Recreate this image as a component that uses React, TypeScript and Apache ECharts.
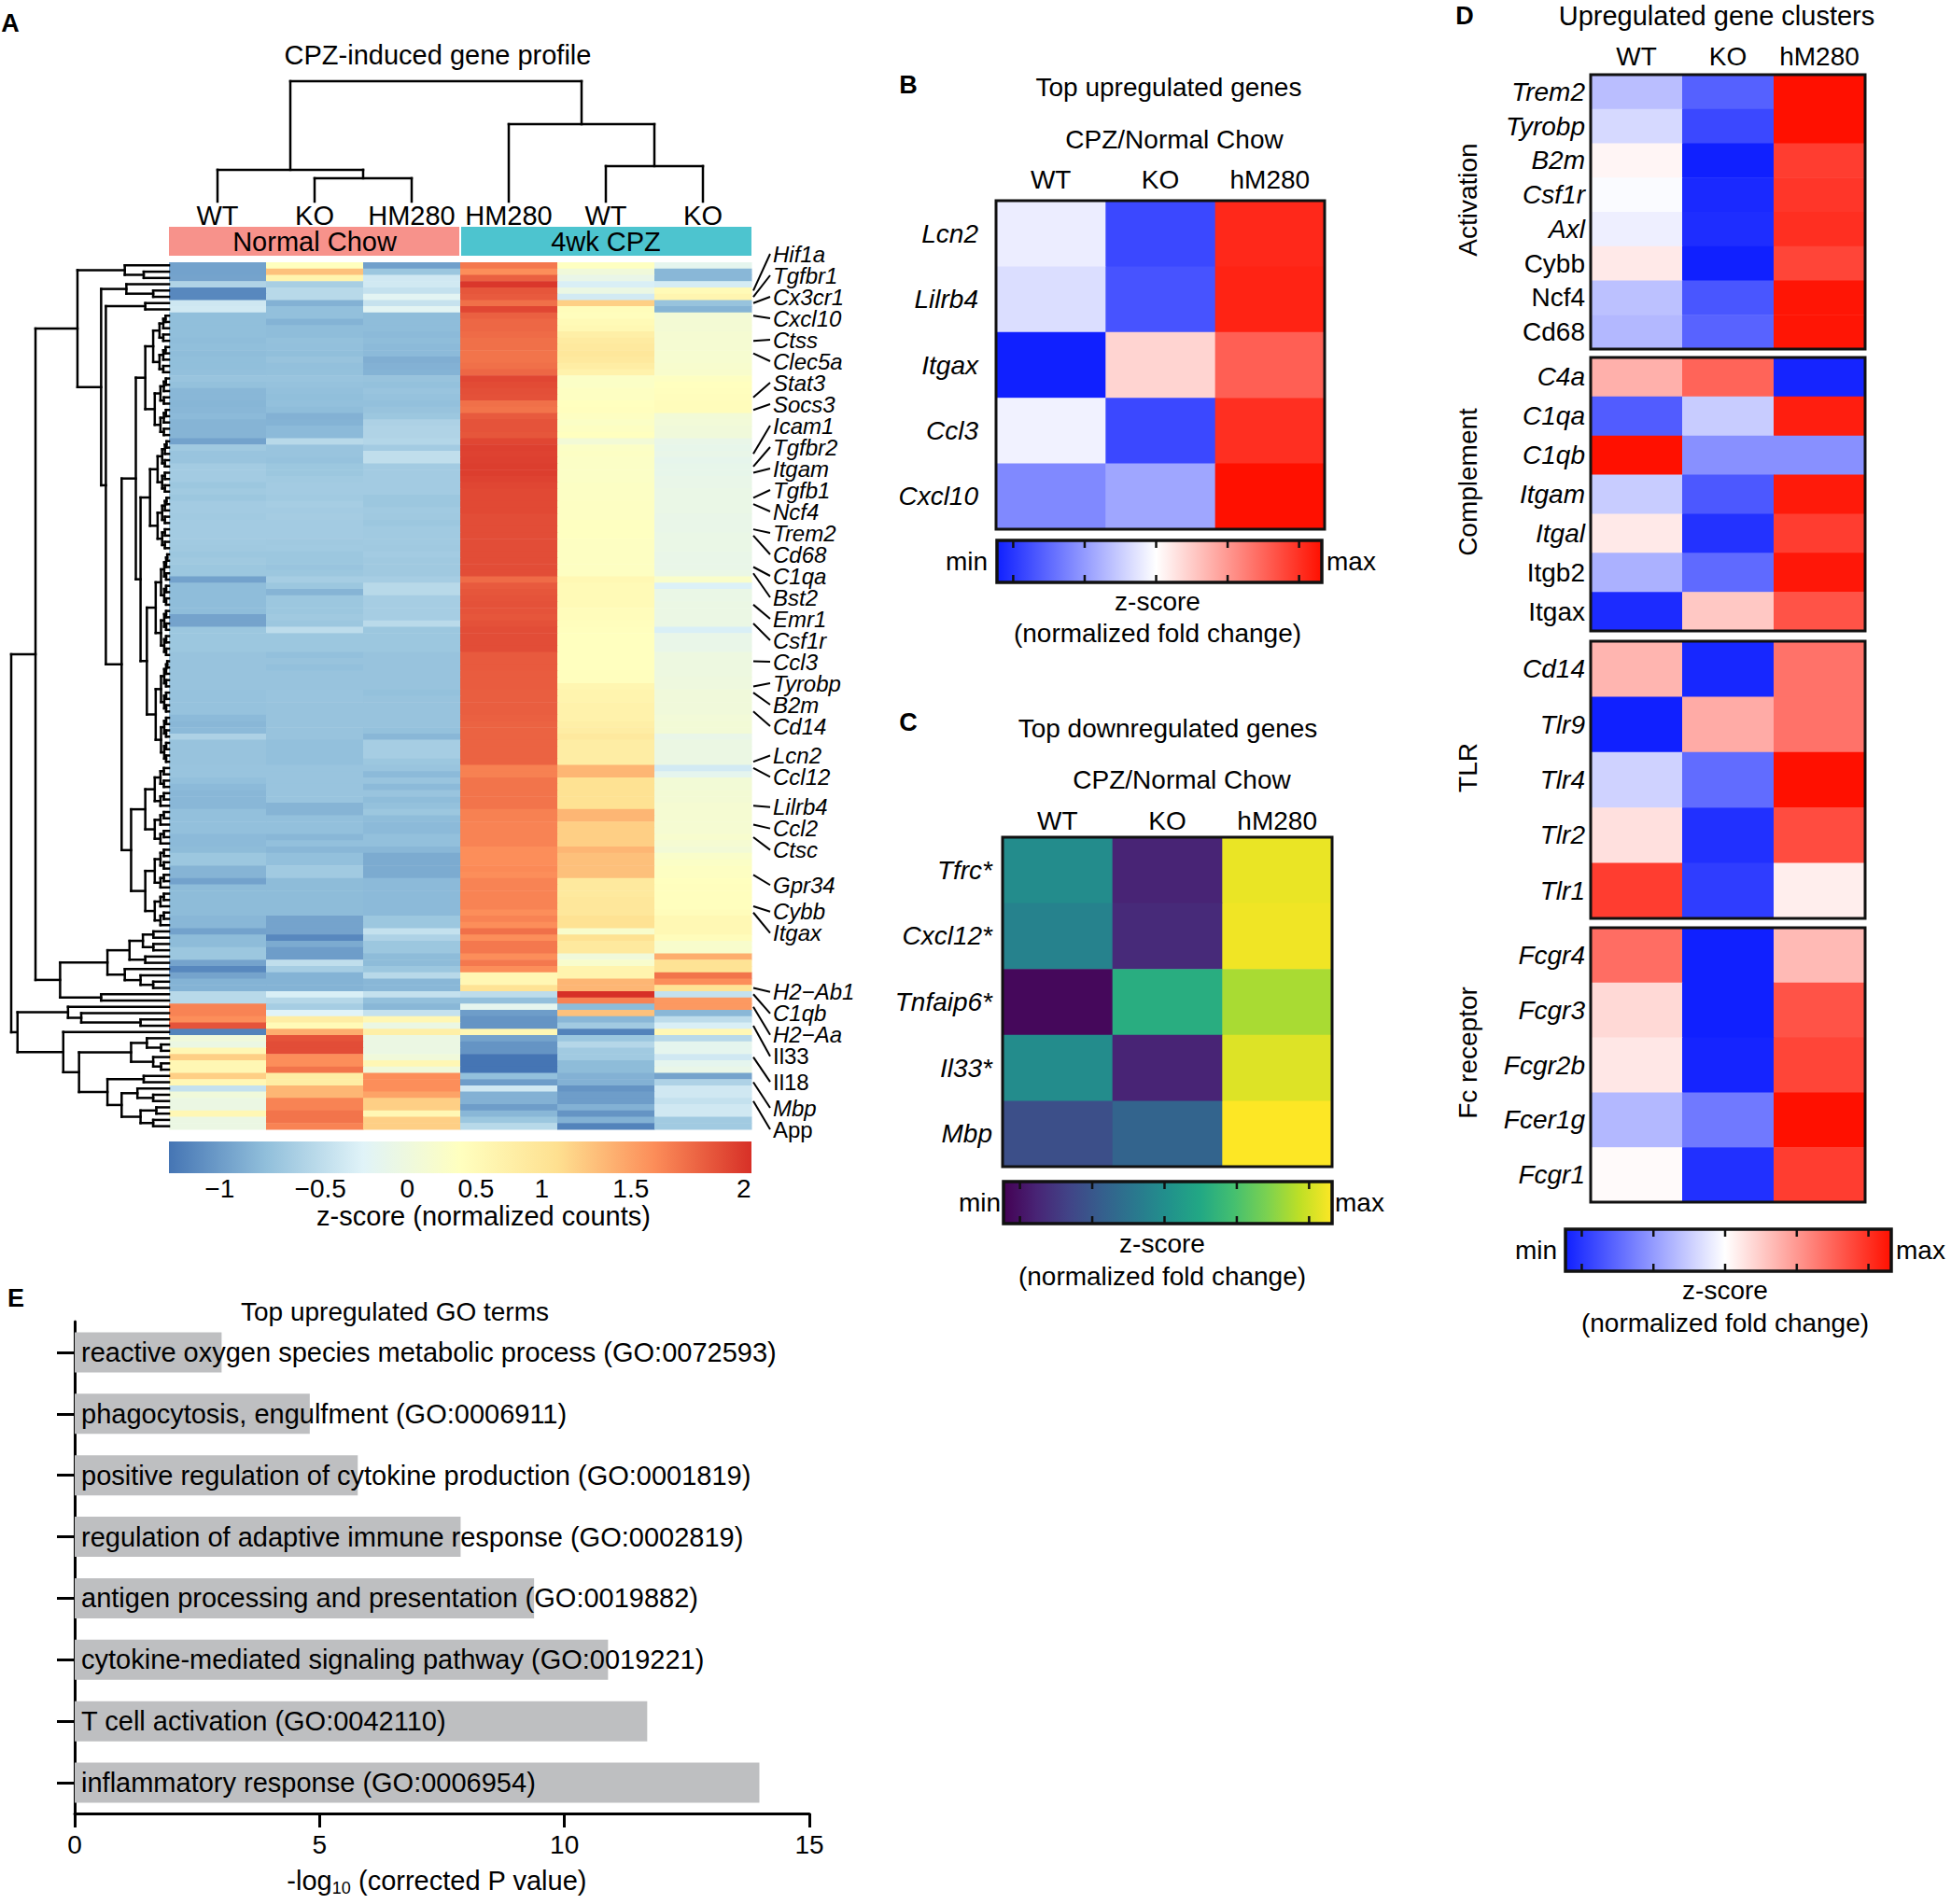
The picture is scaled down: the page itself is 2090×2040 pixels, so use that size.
import React, { useEffect, useRef } from "react";
import * as echarts from "echarts";

const FONT = '"Liberation Sans", Arial, Helvetica, sans-serif';

/* ====================== Panel A data ====================== */
const aColLabels = ["WT", "KO", "HM280", "HM280", "WT", "KO"];
const aGroups = ["Normal Chow", "4wk CPZ"];
// z-scores, columns: NC WT, NC KO, NC HM280, CPZ HM280, CPZ WT, CPZ KO
const aRows = [
  [-0.96, 0.38, -0.97, 1.70, 0.36, -0.16],
  [-0.96, 1.29, -0.70, 1.60, 0.05, -0.82],
  [-0.95, 0.65, -0.37, 1.81, -0.10, -0.82],
  [-0.58, -0.63, -0.36, 2.00, -0.30, -0.33],
  [-1.13, -0.53, -0.45, 1.86, -0.05, 0.50],
  [-1.13, -0.53, -0.20, 1.84, -0.35, 0.62],
  [-0.38, -0.86, -0.44, 1.74, 1.20, -0.73],
  [-0.36, -0.76, -0.20, 1.93, 0.45, -0.84],
  [-0.77, -0.76, -0.78, 1.81, 0.42, 0.10],
  [-0.77, -0.85, -0.78, 1.78, 0.50, 0.12],
  [-0.77, -0.78, -0.78, 1.78, 0.55, 0.12],
  [-0.77, -0.78, -0.80, 1.76, 0.75, 0.15],
  [-0.78, -0.75, -0.78, 1.74, 0.85, 0.15],
  [-0.77, -0.76, -0.80, 1.74, 0.90, 0.15],
  [-0.78, -0.77, -0.80, 1.72, 0.95, 0.18],
  [-0.77, -0.73, -0.88, 1.72, 0.90, 0.18],
  [-0.77, -0.76, -0.86, 1.74, 0.80, 0.20],
  [-0.76, -0.75, -0.85, 1.78, 0.70, 0.22],
  [-0.72, -0.72, -0.73, 1.93, 0.30, 0.35],
  [-0.75, -0.74, -0.75, 1.91, 0.30, 0.38],
  [-0.82, -0.76, -0.72, 1.89, 0.35, 0.40],
  [-0.82, -0.77, -0.74, 1.88, 0.35, 0.42],
  [-0.83, -0.76, -0.76, 1.74, 0.38, 0.45],
  [-0.82, -0.78, -0.73, 1.72, 0.40, 0.45],
  [-0.80, -0.86, -0.70, 1.84, 0.35, 0.10],
  [-0.84, -0.85, -0.60, 1.87, 0.30, 0.08],
  [-0.84, -0.80, -0.58, 1.87, 0.35, 0.05],
  [-0.84, -0.80, -0.58, 1.86, 0.38, 0.05],
  [-0.96, -0.53, -0.56, 1.93, 0.10, -0.10],
  [-0.68, -0.72, -0.66, 1.96, 0.30, -0.12],
  [-0.72, -0.72, -0.48, 1.95, 0.32, -0.10],
  [-0.72, -0.74, -0.48, 1.96, 0.30, -0.14],
  [-0.66, -0.70, -0.66, 1.97, 0.30, -0.12],
  [-0.66, -0.70, -0.66, 1.97, 0.30, -0.12],
  [-0.66, -0.67, -0.66, 1.95, 0.30, -0.10],
  [-0.70, -0.66, -0.66, 1.93, 0.32, -0.10],
  [-0.67, -0.66, -0.66, 1.92, 0.32, -0.08],
  [-0.70, -0.67, -0.70, 1.92, 0.32, -0.08],
  [-0.66, -0.64, -0.70, 1.92, 0.34, -0.08],
  [-0.66, -0.66, -0.67, 1.92, 0.34, -0.08],
  [-0.67, -0.65, -0.68, 1.90, 0.34, -0.10],
  [-0.66, -0.66, -0.70, 1.90, 0.36, -0.10],
  [-0.66, -0.66, -0.67, 1.90, 0.36, -0.10],
  [-0.66, -0.66, -0.67, 1.90, 0.36, -0.08],
  [-0.67, -0.68, -0.67, 1.90, 0.35, -0.08],
  [-0.68, -0.67, -0.68, 1.90, 0.35, -0.08],
  [-0.70, -0.70, -0.66, 1.90, 0.35, -0.10],
  [-0.68, -0.70, -0.68, 1.90, 0.35, -0.10],
  [-0.70, -0.72, -0.68, 1.90, 0.35, -0.10],
  [-0.70, -0.70, -0.68, 1.90, 0.35, -0.08],
  [-0.96, -0.64, -0.64, 1.76, 0.55, 0.25],
  [-0.78, -0.70, -0.53, 1.84, 0.50, -0.28],
  [-0.78, -0.84, -0.53, 1.86, 0.50, -0.08],
  [-0.78, -0.70, -0.64, 1.87, 0.50, -0.08],
  [-0.78, -0.70, -0.64, 1.88, 0.50, -0.06],
  [-0.78, -0.70, -0.64, 1.87, 0.45, -0.06],
  [-0.95, -0.68, -0.64, 1.86, 0.45, -0.06],
  [-0.95, -0.70, -0.52, 1.88, 0.42, -0.06],
  [-0.70, -0.50, -0.70, 1.90, 0.40, -0.30],
  [-0.70, -0.70, -0.70, 1.90, 0.38, -0.10],
  [-0.70, -0.70, -0.70, 1.90, 0.38, -0.10],
  [-0.70, -0.70, -0.70, 1.90, 0.38, -0.10],
  [-0.73, -0.76, -0.73, 1.84, 0.38, -0.02],
  [-0.73, -0.73, -0.73, 1.84, 0.38, -0.02],
  [-0.73, -0.76, -0.73, 1.84, 0.38, -0.02],
  [-0.73, -0.73, -0.73, 1.83, 0.40, -0.02],
  [-0.73, -0.73, -0.73, 1.83, 0.40, 0.00],
  [-0.73, -0.73, -0.73, 1.83, 0.60, 0.00],
  [-0.74, -0.72, -0.75, 1.82, 0.65, 0.05],
  [-0.74, -0.72, -0.73, 1.82, 0.65, 0.05],
  [-0.74, -0.73, -0.73, 1.82, 0.70, 0.05],
  [-0.74, -0.73, -0.73, 1.82, 0.70, 0.05],
  [-0.80, -0.73, -0.73, 1.81, 0.70, 0.08],
  [-0.82, -0.73, -0.73, 1.80, 0.75, 0.10],
  [-0.80, -0.73, -0.75, 1.80, 0.80, 0.10],
  [-0.60, -0.73, -0.82, 1.80, 0.90, -0.10],
  [-0.73, -0.76, -0.64, 1.80, 0.80, -0.05],
  [-0.73, -0.76, -0.64, 1.80, 0.80, -0.05],
  [-0.73, -0.76, -0.64, 1.80, 0.80, -0.05],
  [-0.73, -0.76, -0.70, 1.80, 0.80, -0.05],
  [-0.72, -0.72, -0.72, 1.66, 1.36, -0.35],
  [-0.72, -0.72, -0.80, 1.66, 1.36, -0.16],
  [-0.76, -0.72, -0.72, 1.72, 1.05, 0.10],
  [-0.80, -0.72, -0.80, 1.72, 1.05, 0.10],
  [-0.82, -0.72, -0.72, 1.72, 1.05, 0.12],
  [-0.82, -0.72, -0.78, 1.72, 1.05, 0.12],
  [-0.82, -0.84, -0.75, 1.72, 1.05, 0.15],
  [-0.76, -0.84, -0.70, 1.66, 1.36, 0.15],
  [-0.76, -0.76, -0.78, 1.66, 1.36, 0.15],
  [-0.76, -0.76, -0.80, 1.65, 1.20, 0.15],
  [-0.76, -0.76, -0.80, 1.65, 1.20, 0.15],
  [-0.80, -0.82, -0.76, 1.65, 1.20, 0.20],
  [-0.80, -0.76, -0.76, 1.65, 1.20, 0.15],
  [-0.79, -0.82, -0.82, 1.60, 1.36, 0.10],
  [-0.70, -0.76, -0.90, 1.60, 1.30, 0.25],
  [-0.70, -0.76, -0.90, 1.60, 1.30, 0.30],
  [-0.84, -0.67, -0.90, 1.62, 1.30, 0.35],
  [-0.84, -0.67, -0.90, 1.60, 1.30, 0.35],
  [-0.96, -0.79, -0.80, 1.65, 0.90, 0.38],
  [-0.79, -0.79, -0.80, 1.65, 0.90, 0.40],
  [-0.79, -0.79, -0.80, 1.65, 0.90, 0.40],
  [-0.79, -0.79, -0.80, 1.65, 0.95, 0.40],
  [-0.79, -0.79, -0.80, 1.65, 0.95, 0.40],
  [-0.79, -0.79, -0.80, 1.60, 0.95, 0.45],
  [-0.82, -0.95, -0.70, 1.65, 1.05, 0.55],
  [-0.82, -0.95, -0.70, 1.60, 1.05, 0.55],
  [-0.96, -0.95, -0.45, 1.74, 0.22, 0.55],
  [-0.79, -1.13, -0.59, 1.60, 1.05, 0.45],
  [-0.79, -0.90, -0.70, 1.70, 0.90, 0.22],
  [-0.70, -0.99, -0.70, 1.70, 0.90, 0.22],
  [-0.70, -0.99, -0.79, 1.60, 0.05, 1.42],
  [-0.95, -0.48, -0.79, 1.70, 0.22, 1.03],
  [-1.13, -0.64, -0.70, 1.60, 0.65, 1.03],
  [-0.95, -0.85, -0.53, 0.56, 0.65, 1.72],
  [-0.85, -0.85, -0.82, 0.56, 1.36, 1.60],
  [-0.85, -0.85, -0.82, 1.03, 1.36, 1.03],
  [-0.53, -0.30, -0.45, -0.50, 2.03, -0.45],
  [-0.53, -0.55, -0.76, -0.76, 1.65, 1.54],
  [1.65, -0.64, -0.82, -0.16, -0.79, 1.54],
  [1.65, -0.25, -0.45, -0.99, 1.29, -0.82],
  [1.60, 0.80, 0.56, -1.05, -0.82, -0.50],
  [1.87, 0.50, -0.05, -1.05, -0.67, -0.30],
  [-1.16, 1.42, 0.75, 0.56, -1.16, 0.56],
  [0.05, 1.87, -0.05, -0.95, -0.70, -0.53],
  [-0.05, 1.90, -0.05, -1.05, -0.55, -0.16],
  [0.56, 1.90, -0.05, -1.05, -0.67, -0.16],
  [1.20, 1.60, 0.05, -1.25, -0.67, -0.37],
  [0.56, 1.60, 0.56, -1.25, -0.79, -0.16],
  [0.56, 1.72, 0.05, -1.25, -0.79, -0.10],
  [1.20, 0.80, 1.60, -0.76, -0.86, -0.95],
  [0.56, 0.80, 1.60, -0.99, -0.86, -0.59],
  [-0.45, 1.36, 1.60, -0.37, -1.05, -0.37],
  [0.05, 1.36, 1.49, -0.86, -0.99, -0.37],
  [-0.05, 1.65, 1.20, -0.86, -0.99, -0.45],
  [-0.05, 1.65, 1.20, -0.99, -0.86, -0.37],
  [0.56, 1.72, 0.56, -0.82, -1.05, -0.37],
  [-0.05, 1.72, 1.20, -0.70, -0.86, -0.67],
  [-0.05, 1.65, 1.20, -0.53, -1.16, -0.67],
];
const aLegendTicks = [-1, -0.5, 0, 0.5, 1, 1.5, 2];
// colour-key scale: z-score -> fraction along the key (breaks are not uniform)
const aLegendScale = [
  [-1.25, 0], [-1, 0.087], [-0.5, 0.26], [0, 0.409], [0.5, 0.527],
  [1, 0.64], [1.5, 0.793], [2, 0.987], [2.03, 1],
];
const aPalette = ["#4575B4", "#91BFDB", "#E0F3F8", "#FFFFBF", "#FEE090", "#FC8D59", "#D73027"];

function blk(from: number, to: number, h: number) {
  return { from, to, h };
}
// column dendrogram: [height, left, right], leaves = column index
const aColTree = [1.0, [0.264, 0, [0.194, 1, 2]], [0.643, 3, [0.295, 4, 5]]];
// row dendrogram: [height, left, right], leaves = row index, blk = tight leaf group
const aRowTree = [1.0,
  [0.846,
    [0.58,
      [0.28, 0, [0.16, 1, 2]],
      [0.43,
        [0.27, 3, [0.10, 4, 5]],
        [0.40,
          [0.15, 6, 7],
          [0.30,
            [0.21,
              [0.15, blk(8, 17, 0.10), blk(18, 27, 0.09)],
              [0.18, blk(28, 45, 0.12), blk(46, 79, 0.14)]],
            [0.24, blk(80, 92, 0.15), blk(93, 105, 0.15)]]]]],
    [0.69,
      [0.39,
        [0.25, blk(106, 109, 0.165), [0.15, 110, 111]],
        [0.28, 112, [0.18, 113, [0.10, 114, 115]]]],
      [0.43, 116, 117]]],
  [0.96,
    [0.64, 118, [0.556, 119, [0.18, 120, 121]]],
    [0.67, 122,
      [0.57,
        [0.24, [0.14, 123, [0.05, 124, 125]], [0.10, 126, [0.05, 127, 128]]],
        [0.39, [0.16, 129, 130],
          [0.30, [0.20, 131, [0.10, 132, 133]], [0.18, [0.08, 134, 135], [0.10, 136, 137]]]]]]]];

// labelled genes with their heatmap row
const aGeneLabels: [string, number][] = [
  ["Hif1a", 4], ["Tgfbr1", 5], ["Cx3cr1", 6], ["Cxcl10", 8], ["Ctss", 12], ["Clec5a", 14],
  ["Stat3", 21], ["Socs3", 23], ["Icam1", 30], ["Tgfbr2", 32], ["Itgam", 33], ["Tgfb1", 37],
  ["Ncf4", 38], ["Trem2", 42], ["Cd68", 43], ["C1qa", 48], ["Bst2", 49], ["Emr1", 54],
  ["Csf1r", 57], ["Ccl3", 63], ["Tyrobp", 67], ["B2m", 68], ["Cd14", 71], ["Lcn2", 79],
  ["Ccl12", 80], ["Lilrb4", 86], ["Ccl2", 89], ["Ctsc", 91], ["Gpr34", 97], ["Cybb", 102],
  ["Itgax", 103], ["H2\u2212Ab1", 115], ["C1qb", 116], ["H2\u2212Aa", 118], ["Il33", 121],
  ["Il18", 126], ["Mbp", 130], ["App", 133],
];
const aUpright = new Set(["Il33", "Il18", "App"]);

/* ====================== Panel B / C data ====================== */
const fcCols = ["WT", "KO", "hM280"];
const bGenes = ["Lcn2", "Lilrb4", "Itgax", "Ccl3", "Cxcl10"];
// normalized fold change, -1 = min, 1 = max
const bValues = [
  [-0.08, -0.82, 0.90],
  [-0.15, -0.77, 0.92],
  [-1.00, 0.18, 0.67],
  [-0.06, -0.82, 0.87],
  [-0.53, -0.40, 1.00],
];
const cGenes = ["Tfrc*", "Cxcl12*", "Tnfaip6*", "Il33*", "Mbp"];
const cValues = [
  [-0.04, -0.80, 0.94],
  [-0.12, -0.76, 0.96],
  [-0.96, 0.24, 0.74],
  [-0.04, -0.80, 0.90],
  [-0.52, -0.36, 1.00],
];

/* ====================== Panel D data ====================== */
const dGroups = ["Activation", "Complement", "TLR", "Fc receptor"];
const dGenes = [
  ["Trem2", "Tyrobp", "B2m", "Csf1r", "Axl", "Cybb", "Ncf4", "Cd68"],
  ["C4a", "C1qa", "C1qb", "Itgam", "Itgal", "Itgb2", "Itgax"],
  ["Cd14", "Tlr9", "Tlr4", "Tlr2", "Tlr1"],
  ["Fcgr4", "Fcgr3", "Fcgr2b", "Fcer1g", "Fcgr1"],
];
const dValues = [
  [[-0.29, -0.71, 1.00], [-0.17, -0.82, 1.00], [0.04, -1.00, 0.81], [-0.02, -0.96, 0.84],
   [-0.07, -0.94, 0.87], [0.09, -1.00, 0.78], [-0.28, -0.76, 0.98], [-0.32, -0.70, 0.98]],
  [[0.33, 0.65, -0.98], [-0.73, -0.23, 0.94], [1.00, -0.50, -0.50], [-0.23, -0.75, 0.96],
   [0.09, -0.92, 0.81], [-0.35, -0.67, 0.97], [-0.95, 0.23, 0.72]],
  [[0.31, -0.97, 0.59], [-1.00, 0.35, 0.59], [-0.20, -0.66, 1.00], [0.13, -0.93, 0.75],
   [0.81, -0.87, 0.07]],
  [[0.61, -1.00, 0.29], [0.16, -1.00, 0.72], [0.10, -0.98, 0.78], [-0.32, -0.60, 1.00],
   [0.02, -0.93, 0.81]],
];
const dUpright = [new Set(["Cybb", "Ncf4", "Cd68"]), new Set(["Itgb2", "Itgax"]), new Set<string>(), new Set<string>()];

/* ====================== Panel E data ====================== */
const goTerms = [
  "reactive oxygen species metabolic process (GO:0072593)",
  "phagocytosis, engulfment (GO:0006911)",
  "positive regulation of cytokine production (GO:0001819)",
  "regulation of adaptive immune response (GO:0002819)",
  "antigen processing and presentation (GO:0019882)",
  "cytokine-mediated signaling pathway (GO:0019221)",
  "T cell activation (GO:0042110)",
  "inflammatory response (GO:0006954)",
];
const goValues = [3.0, 4.8, 5.78, 7.88, 9.38, 10.89, 11.69, 13.98];
const goTicks = [0, 5, 10, 15];

/* ====================== layout ====================== */
const LAY = {
  aHeat: { left: 181, top: 281, width: 624, height: 929 },
  aRowDen: { left: 12, top: 281, width: 169, height: 929 },
  aColDen: { left: 181, top: 87, width: 624, height: 129 },
  aLabelTop: 272,
  aLabelBottom: 1210,
  aLabelGap: 23,
  b: { left: 1067, top: 215, width: 352, height: 352 },
  c: { left: 1074, top: 897, width: 353, height: 353 },
  d: [
    { left: 1704, top: 80, width: 294, height: 294 },
    { left: 1704, top: 383, width: 294, height: 293 },
    { left: 1704, top: 687, width: 294, height: 297 },
    { left: 1704, top: 994, width: 294, height: 294 },
  ],
  e: { left: 80, top: 1416, width: 787, height: 527 },
};
const cbTickFrac = [0.05, 0.27, 0.49, 0.71, 0.93];

/* ====================== colour helpers ====================== */
function hexRgb(c: string) {
  const n = parseInt(c.slice(1), 16);
  return [(n >> 16) & 255, (n >> 8) & 255, n & 255];
}
function mix(a: string, b: string, t: number) {
  const A = hexRgb(a), B = hexRgb(b);
  const r = A.map((v, i) => Math.round(v + (B[i] - v) * t));
  return `rgb(${r[0]},${r[1]},${r[2]})`;
}
function ramp(stops: string[], t: number) {
  const tt = Math.max(0, Math.min(1, t));
  const s = tt * (stops.length - 1);
  const i = Math.min(stops.length - 2, Math.floor(s));
  return mix(stops[i], stops[i + 1], s - i);
}
function piecewise(stops: number[][], v: number) {
  if (v <= stops[0][0]) return stops[0][1];
  for (let i = 1; i < stops.length; i++) {
    if (v <= stops[i][0]) {
      const [x0, y0] = stops[i - 1];
      const [x1, y1] = stops[i];
      return y0 + ((y1 - y0) * (v - x0)) / (x1 - x0);
    }
  }
  return stops[stops.length - 1][1];
}
const aColor = (z: number) => ramp(aPalette, piecewise(aLegendScale, z));
const BLUE = "#1020FF";
const RED = "#FF1000";
const bwr = (v: number) => (v < 0 ? mix(BLUE, "#FFFFFF", 1 + v) : mix("#FFFFFF", RED, v));
const VIRIDIS = ["#440154", "#482475", "#414487", "#355F8D", "#2A788E", "#21918C", "#22A884", "#44BF70", "#7AD151", "#BDDF26", "#FDE725"];
const viridis = (v: number) => ramp(VIRIDIS, (v + 1) / 2);

/* ====================== dendrogram / label helpers ====================== */
function expand(n: any): any {
  if (typeof n === "number") return n;
  if (Array.isArray(n)) return [n[0], expand(n[1]), expand(n[2])];
  if (n.from === n.to) return n.from;
  const m = Math.floor((n.from + n.to) / 2);
  return [n.h, expand(blk(n.from, m, n.h * 0.6)), expand(blk(m + 1, n.to, n.h * 0.6))];
}
function dendro(n: any, segs: number[][]): { p: number; h: number } {
  if (typeof n === "number") return { p: n + 0.5, h: 0 };
  const a = dendro(n[1], segs);
  const b = dendro(n[2], segs);
  const h = n[0];
  segs.push([a.h, a.p, h, a.p]);
  segs.push([b.h, b.p, h, b.p]);
  segs.push([h, a.p, h, b.p]);
  return { p: (a.p + b.p) / 2, h };
}
// spread anchors over the label column, then push apart to a minimum gap
function layoutLabels(anchors: number[], S: number, lo: number, hi: number) {
  const a0 = anchors[0], a1 = anchors[anchors.length - 1];
  const p = anchors.map((a) => lo + ((a - a0) * (hi - lo)) / (a1 - a0));
  for (let it = 0; it < 5000; it++) {
    for (let i = 1; i < p.length; i++) {
      const d = p[i] - p[i - 1];
      if (d < S) {
        const s = (S - d) / 2;
        p[i - 1] -= s;
        p[i] += s;
      }
    }
    if (p[0] < lo) p[0] = lo;
    if (p[p.length - 1] > hi) p[p.length - 1] = hi;
  }
  return p;
}

/* ====================== graphic helpers ====================== */
function txt(text: string, x: number, y: number, o: any = {}) {
  return {
    type: "text",
    x,
    y,
    z: 100,
    rotation: o.rotation || 0,
    silent: true,
    style: {
      text,
      fill: "#000",
      fontSize: o.size || 28,
      fontFamily: FONT,
      fontWeight: o.weight || "normal",
      fontStyle: o.italic ? "italic" : "normal",
      align: o.align || "center",
      verticalAlign: o.va || "middle",
      textAlign: o.align || "center",
      textVerticalAlign: o.va || "middle",
      rich: o.rich,
    },
  };
}
function border(g: any) {
  return {
    type: "rect",
    z: 100,
    silent: true,
    shape: { x: g.left, y: g.top, width: g.width, height: g.height },
    style: { fill: "none", stroke: "#111", lineWidth: 3 },
  };
}
function colorBar(x: number, y: number, w: number, h: number, stops: { offset: number; color: string }[], withTicks: boolean) {
  const els: any[] = [
    {
      type: "rect",
      z: 99,
      silent: true,
      shape: { x, y, width: w, height: h },
      style: {
        fill: { type: "linear", x: 0, y: 0, x2: 1, y2: 0, colorStops: stops },
        stroke: withTicks ? "#111" : "none",
        lineWidth: withTicks ? 3.5 : 0,
      },
    },
  ];
  if (withTicks) {
    cbTickFrac.forEach((f) => {
      const xx = x + f * w;
      els.push({ type: "line", z: 101, silent: true, shape: { x1: xx, y1: y, x2: xx, y2: y + 8 }, style: { stroke: "#111", lineWidth: 2.5 } });
      els.push({ type: "line", z: 101, silent: true, shape: { x1: xx, y1: y + h - 8, x2: xx, y2: y + h }, style: { stroke: "#111", lineWidth: 2.5 } });
    });
  }
  return els;
}
const evenStops = (cols: string[]) => cols.map((c, i) => ({ offset: i / (cols.length - 1), color: c }));
const bwrStops = [
  { offset: 0, color: BLUE },
  { offset: 0.49, color: "#FFFFFF" },
  { offset: 1, color: RED },
];

/* ====================== option ====================== */
function buildOption() {
  const ah = LAY.aHeat;
  const rowPx = ah.height / aRows.length;

  const aCells: number[][] = [];
  aRows.forEach((row, r) => row.forEach((z, c) => aCells.push([c, r, z])));

  const rowSegs: number[][] = [];
  dendro(expand(aRowTree), rowSegs);
  const colRaw: number[][] = [];
  dendro(aColTree, colRaw);
  const colSegs = colRaw.map(([h1, p1, h2, p2]) => [p1, h1, p2, h2]);

  const anchors = aGeneLabels.map((g) => g[1] + 0.5);
  const lp = layoutLabels(
    anchors,
    LAY.aLabelGap / rowPx,
    (LAY.aLabelTop - ah.top) / rowPx,
    (LAY.aLabelBottom - ah.top) / rowPx
  );
  const aLabelData = aGeneLabels.map((g, i) => [6, g[1] + 0.5, lp[i], i]);

  const segRender = (lw: number) => (params: any, api: any) => {
    const p1 = api.coord([api.value(0), api.value(1)]);
    const p2 = api.coord([api.value(2), api.value(3)]);
    return {
      type: "line",
      shape: { x1: p1[0], y1: p1[1], x2: p2[0], y2: p2[1] },
      style: { stroke: "#000", lineWidth: lw, lineCap: "square" },
    };
  };

  const matrixSeries = (xi: number, yi: number, values: number[][], colorFn: (v: number) => string) => ({
    type: "custom",
    xAxisIndex: xi,
    yAxisIndex: yi,
    silent: true,
    clip: false,
    data: values.flatMap((row, r) => row.map((v, c) => [c, r, v])),
    encode: { x: 0, y: 1 },
    renderItem: (params: any, api: any) => {
      const p = api.coord([api.value(0), api.value(1)]);
      const s = api.size([1, 1]);
      return {
        type: "rect",
        shape: { x: p[0] - s[0] / 2, y: p[1] - s[1] / 2, width: s[0] + 0.6, height: s[1] + 0.6 },
        style: { fill: colorFn(api.value(2)) },
      };
    },
  });

  const hiddenVal = (gi: number, min: number, max: number, inverse = false) => ({
    type: "value", gridIndex: gi, min, max, inverse, show: false,
  });
  const catTop = (gi: number, data: string[], margin: number, show = true, size = 28) => ({
    type: "category",
    gridIndex: gi,
    data,
    position: "top",
    axisLine: { show: false },
    axisTick: { show: false },
    splitLine: { show: false },
    axisLabel: { show, interval: 0, fontSize: size, color: "#000", fontFamily: FONT, margin },
  });
  const catLeft = (gi: number, data: string[], margin: number, upright: Set<string>) => ({
    type: "category",
    gridIndex: gi,
    data,
    inverse: true,
    axisLine: { show: false },
    axisTick: { show: false },
    splitLine: { show: false },
    axisLabel: {
      interval: 0,
      margin,
      fontSize: 28,
      color: "#000",
      fontFamily: FONT,
      formatter: (v: string) => (upright.has(v) ? `{n|${v}}` : `{i|${v}}`),
      rich: {
        i: { fontStyle: "italic", fontSize: 28, fontFamily: FONT, color: "#000" },
        n: { fontStyle: "normal", fontSize: 28, fontFamily: FONT, color: "#000" },
      },
    },
  });

  const grids = [LAY.aHeat, LAY.aRowDen, LAY.aColDen, LAY.b, LAY.c, ...LAY.d, LAY.e].map((g) => ({ ...g, containLabel: false }));

  const xAxis: any[] = [
    hiddenVal(0, 0, 6), // 0
    hiddenVal(1, 0, 1, true), // 1
    hiddenVal(2, 0, 6), // 2
    catTop(0, aColLabels, 36, true, 29), // 3
    catTop(3, fcCols, 9), // 4
    catTop(4, fcCols, 4), // 5
    catTop(5, fcCols, 6), // 6
    catTop(6, fcCols, 6, false), // 7
    catTop(7, fcCols, 6, false), // 8
    catTop(8, fcCols, 6, false), // 9
    {
      type: "value",
      gridIndex: 9,
      min: goTicks[0],
      max: goTicks[goTicks.length - 1],
      interval: goTicks[1] - goTicks[0],
      axisLine: { show: true, lineStyle: { color: "#000", width: 3 } },
      axisTick: { show: true, length: 15, lineStyle: { color: "#000", width: 3 } },
      splitLine: { show: false },
      axisLabel: { fontSize: 28, color: "#000", fontFamily: FONT, margin: 19 },
    }, // 10
  ];
  const yAxis: any[] = [
    hiddenVal(0, 0, aRows.length, true), // 0
    hiddenVal(1, 0, aRows.length, true), // 1
    hiddenVal(2, 0, 1), // 2
    catLeft(3, bGenes, 19, new Set()), // 3
    catLeft(4, cGenes, 11, new Set()), // 4
    ...dGenes.map((g, i) => catLeft(5 + i, g, 6, dUpright[i])), // 5..8
    {
      type: "category",
      gridIndex: 9,
      data: goTerms,
      inverse: true,
      axisLine: { show: true, lineStyle: { color: "#000", width: 3 } },
      axisTick: { show: true, alignWithLabel: true, length: 19, lineStyle: { color: "#000", width: 3 } },
      axisLabel: { show: false },
      splitLine: { show: false },
    }, // 9
  ];

  const series: any[] = [
    {
      type: "custom",
      xAxisIndex: 0,
      yAxisIndex: 0,
      silent: true,
      clip: false,
      data: aCells,
      encode: { x: 0, y: 1 },
      renderItem: (params: any, api: any) => {
        const c = api.value(0), r = api.value(1);
        const p0 = api.coord([c, r]);
        const p1 = api.coord([c + 1, r + 1]);
        return {
          type: "rect",
          shape: { x: p0[0], y: p0[1], width: p1[0] - p0[0] + 0.5, height: p1[1] - p0[1] + 0.6 },
          style: { fill: aColor(api.value(2)) },
        };
      },
    },
    {
      type: "custom",
      xAxisIndex: 0,
      yAxisIndex: 0,
      silent: true,
      clip: false,
      data: aLabelData,
      encode: { x: 0, y: 1 },
      renderItem: (params: any, api: any) => {
        const i = api.value(3);
        const a = api.coord([api.value(0), api.value(1)]);
        const b = api.coord([api.value(0), api.value(2)]);
        const name = aGeneLabels[i][0];
        return {
          type: "group",
          children: [
            { type: "line", shape: { x1: a[0] + 2, y1: a[1], x2: a[0] + 20, y2: b[1] }, style: { stroke: "#000", lineWidth: 2 } },
            {
              type: "text",
              x: a[0] + 23,
              y: b[1],
              style: {
                text: name, fill: "#000", fontSize: 24, fontFamily: FONT,
                fontStyle: aUpright.has(name) ? "normal" : "italic",
                align: "left", verticalAlign: "middle", textAlign: "left", textVerticalAlign: "middle",
              },
            },
          ],
        };
      },
    },
    { type: "custom", xAxisIndex: 1, yAxisIndex: 1, silent: true, clip: false, data: rowSegs, renderItem: segRender(2.5) },
    { type: "custom", xAxisIndex: 2, yAxisIndex: 2, silent: true, clip: false, data: colSegs, renderItem: segRender(2.5) },
    matrixSeries(4, 3, bValues, bwr),
    matrixSeries(5, 4, cValues, viridis),
    ...dValues.map((vals, i) => matrixSeries(6 + i, 5 + i, vals, bwr)),
    {
      type: "bar",
      xAxisIndex: 10,
      yAxisIndex: 9,
      data: goValues,
      barWidth: 43,
      silent: true,
      itemStyle: { color: "#BEBFC1" },
      label: {
        show: true,
        position: "insideLeft",
        distance: 7,
        formatter: "{b}",
        color: "#000",
        fontSize: 29,
        fontFamily: FONT,
      },
    },
  ];

  /* ---- graphic annotations ---- */
  const G: any[] = [];
  // panel letters
  G.push(txt("A", 11, 25, { size: 27, weight: "bold" }));
  G.push(txt("B", 973, 91, { size: 27, weight: "bold" }));
  G.push(txt("C", 973, 774, { size: 27, weight: "bold" }));
  G.push(txt("D", 1569, 17, { size: 27, weight: "bold" }));
  G.push(txt("E", 17, 1391, { size: 27, weight: "bold" }));

  // Panel A
  G.push(txt("CPZ-induced gene profile", 469, 59, { size: 29 }));
  const half = ah.width / 2;
  const annColors = ["#F7928B", "#4DC4CF"];
  aGroups.forEach((g, i) => {
    const x0 = ah.left + i * half + (i === 0 ? 0 : 1);
    G.push({ type: "rect", z: 99, silent: true, shape: { x: x0, y: 243, width: half - 1, height: 31 }, style: { fill: annColors[i] } });
    G.push(txt(g, ah.left + i * half + half / 2, 259, { size: 29 }));
  });
  G.push(...colorBar(ah.left, 1223, ah.width, 34, evenStops(aPalette), false));
  aLegendTicks.forEach((t) => {
    const x = ah.left + piecewise(aLegendScale, t) * ah.width;
    const lab = t < 0 ? "\u2212" + Math.abs(t) : String(t);
    G.push(txt(lab, x, 1273, { size: 28 }));
  });
  G.push(txt("z-score (normalized counts)", 518, 1303, { size: 29 }));

  // Panel B
  G.push(txt("Top upregulated genes", 1252, 93));
  G.push(txt("CPZ/Normal Chow", 1258, 149));
  G.push(border(LAY.b));
  G.push(...colorBar(1068, 579, 348, 45, bwrStops, true));
  G.push(txt("min", 1058, 601, { align: "right" }));
  G.push(txt("max", 1421, 601, { align: "left" }));
  G.push(txt("z-score", 1240, 644));
  G.push(txt("(normalized fold change)", 1240, 678));

  // Panel C
  G.push(txt("Top downregulated genes", 1251, 780));
  G.push(txt("CPZ/Normal Chow", 1266, 835));
  G.push(border(LAY.c));
  G.push(...colorBar(1075, 1266, 352, 45, evenStops(VIRIDIS), true));
  G.push(txt("min", 1072, 1288, { align: "right" }));
  G.push(txt("max", 1430, 1288, { align: "left" }));
  G.push(txt("z-score", 1245, 1332));
  G.push(txt("(normalized fold change)", 1245, 1367));

  // Panel D
  G.push(txt("Upregulated gene clusters", 1839, 17, { size: 29 }));
  LAY.d.forEach((g, i) => {
    G.push(border(g));
    G.push(txt(dGroups[i], 1572, g.top + g.height / 2 - 13, { rotation: Math.PI / 2 }));
  });
  G.push(...colorBar(1677, 1317, 349, 45, bwrStops, true));
  G.push(txt("min", 1668, 1339, { align: "right" }));
  G.push(txt("max", 2031, 1339, { align: "left" }));
  G.push(txt("z-score", 1848, 1382));
  G.push(txt("(normalized fold change)", 1848, 1417));

  // Panel E
  G.push(txt("Top upregulated GO terms", 423, 1405));
  G.push(
    txt("{a|-log}{s|10}{a| (corrected P value)}", 468, 2015, {
      rich: {
        a: { fontSize: 29, fontFamily: FONT, lineHeight: 34, fill: "#000" },
        s: { fontSize: 18, fontFamily: FONT, lineHeight: 18, verticalAlign: "bottom", fill: "#000" },
      },
    })
  );

  return {
    animation: false,
    backgroundColor: "#ffffff",
    textStyle: { fontFamily: FONT },
    grid: grids,
    xAxis,
    yAxis,
    series,
    graphic: { elements: G },
  };
}

export default function App() {
  const ref = useRef<HTMLDivElement>(null);
  useEffect(() => {
    if (!ref.current) return;
    const chart = echarts.init(ref.current, null, { renderer: "svg" });
    chart.setOption(buildOption() as any);
    return () => chart.dispose();
  }, []);
  return (
    <div
      ref={ref}
      style={{ position: "absolute", left: 0, top: 0, width: 2090, height: 2040, background: "#fff" }}
    />
  );
}
